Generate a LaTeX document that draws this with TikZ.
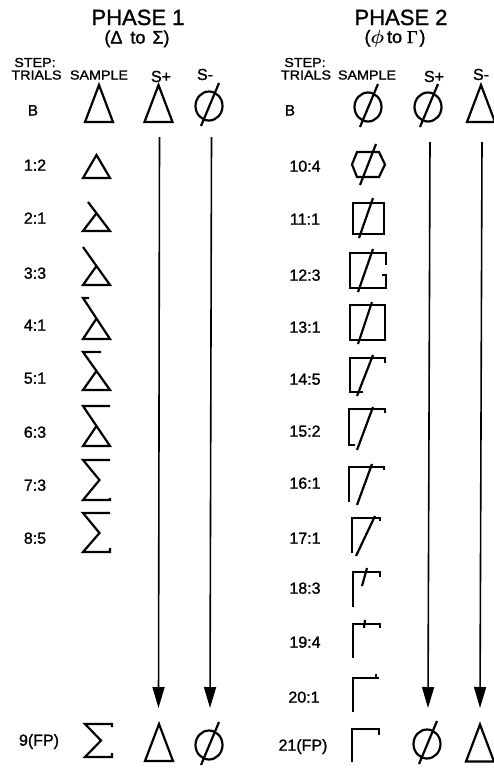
\documentclass[tikz,border=0pt]{standalone}
\usepackage{fontspec}
\setmainfont{Liberation Sans}[FakeBold=1.3]
\newfontfamily\widefont[FakeStretch=1.1,FakeBold=1.3]{Liberation Sans}
\newfontfamily\gkserif[FakeBold=1.3]{Liberation Serif}
\usetikzlibrary{arrows.meta}
\tikzset{
  shp/.style={line width=2.2pt, line join=miter, line cap=butt},
  arr/.style={line width=1.6pt, -{Triangle[width=12pt,length=21pt]}},
  lbl/.style={font=\fontsize{16}{16}\selectfont, inner sep=0pt, anchor=base},
  blbl/.style={font=\fontsize{15}{15}\selectfont, inner sep=0pt, anchor=base},
  head/.style={font=\fontsize{22}{22}\selectfont, inner sep=0pt, anchor=base},
  sub/.style={font=\fontsize{18}{18}\selectfont, inner sep=0pt, anchor=base},
  colh/.style={font=\widefont\fontsize{13}{13}\selectfont, inner sep=0pt, anchor=base},
  spm/.style={font=\fontsize{16}{16}\selectfont, inner sep=0pt, anchor=base},
  phisym/.pic={\draw[shp] (0,0) ellipse[x radius=13.5, y radius=14.5];
               \draw[shp] (10,-23)--(-8,20);},
  tri/.pic={\draw[shp] (-14,18.5)--(0,-18.5)--(14,18.5)--cycle;}
}
\begin{document}
\begin{tikzpicture}[x=1pt,y=-1pt]
\useasboundingbox (0,0) rectangle (494,769);
\fill[white] (0,0) rectangle (494,769);

% ---------------- headers
\node[head] (h1) at (138,25) {PHASE 1};
\node[sub]  (s1) at (137,43.5) {(Δ\hspace{3pt} to\hspace{2pt} Σ)};
\node[head] (h2) at (401,25) {PHASE 2};
\node[sub]  (s2) at (395,43) {({\boldmath\scalebox{1.1}{$\phi$}}\hspace{3pt}to {\gkserif Γ}\hspace{2pt})};

\node[colh] (st1) at (35,67) {STEP:};
\node[colh] (tr1) at (36.5,79.5) {TRIALS};
\node[colh] (sa1) at (99,79.5) {SAMPLE};
\node[spm]  (sp1) at (161,82) {S+};
\node[spm]  (sm1) at (205,80) {S-};

\node[colh] (st2) at (305,67) {STEP:};
\node[colh] (tr2) at (306,79.5) {TRIALS};
\node[colh] (sa2) at (367,79.5) {SAMPLE};
\node[spm]  (sp2) at (434,82) {S+};
\node[spm]  (sm2) at (481,80) {S-};

% ---------------- phase 1 labels
\node[blbl] (b1) at (33,115.5) {B};
\node[lbl] (r11) at (35,170.7) {1:2};
\node[lbl] (r12) at (35,223.7) {2:1};
\node[lbl] (r13) at (35,278.7) {3:3};
\node[lbl] (r14) at (35,330.7) {4:1};
\node[lbl] (r15) at (35,383.7) {5:1};
\node[lbl] (r16) at (35,437.7) {6:3};
\node[lbl] (r17) at (35,490.7) {7:3};
\node[lbl] (r18) at (35,543.7) {8:5};
\node[lbl] (r19) at (39,745.7) {9(FP)};

% ---------------- phase 2 labels
\node[blbl] (b2) at (290,115.5) {B};
\node[lbl] (r21) at (305,171.7) {10:4};
\node[lbl] (r22) at (305,224.7) {11:1};
\node[lbl] (r23) at (305,280.7) {12:3};
\node[lbl] (r24) at (305,332.7) {13:1};
\node[lbl] (r25) at (305,384.7) {14:5};
\node[lbl] (r26) at (305,436.7) {15:2};
\node[lbl] (r27) at (305,488.7) {16:1};
\node[lbl] (r28) at (305,543.7) {17:1};
\node[lbl] (r29) at (305,593.7) {18:3};
\node[lbl] (r2a) at (305,647.7) {19:4};
\node[lbl] (r2b) at (304,702.7) {20:1};
\node[lbl] (r2c) at (303,750.7) {21(FP)};

% ---------------- phase 1 B row and final row
\pic at (99,103.5) {tri};
\pic at (158.5,103.5) {tri};
\pic at (209,106) {phisym};
\draw[shp] (112,727)--(112,724)--(85,724)--(101,740.5)--(85,757)--(112,757)--(112,753);
\pic at (159,742.5) {tri};
\pic at (209,745) {phisym};

% ---------------- phase 1 sample morph (Delta -> Sigma)
\draw[shp] (83,178)--(96.5,155)--(110,178)--cycle;
\draw[shp] (88,202)--(110,231)--(83,231)--(96.5,213.2);
\draw[shp] (83,247)--(110,285)--(83,285)--(96.5,266);
\draw[shp] (89,298)--(83,298)--(110,339)--(83,339)--(96.5,318.5);
\draw[shp] (101,352)--(83,352)--(110,390)--(83,390)--(96.5,371);
\draw[shp] (110,406)--(83,406)--(110,446)--(83,446)--(96.5,426);
\draw[shp] (110,460)--(83,460)--(99.5,480)--(83,500)--(110,500)--(110,498);
\draw[shp] (110,513)--(83,513)--(99.5,533)--(83,552)--(110,552)--(110,548);

% ---------------- phase 2 B row and final row
\pic at (368,107) {phisym};
\pic at (428,107) {phisym};
\pic at (481,103.5) {tri};
\draw[shp] (379,735)--(379,729)--(352,729)--(352,762);
\pic at (427,744) {phisym};
\pic at (480,743) {tri};

% ---------------- phase 2 sample morph (phi -> Gamma)
\draw[shp] (352,164.5)--(357,152)--(379,152)--(385,164.5)--(379,177)--(357,177)--cycle;
\draw[shp] (376,144)--(360,185);
\draw[shp] (353,203) rectangle (384,234);
\draw[shp] (373,198)--(359,238);
\draw[shp] (386,265)--(386,253)--(350,253)--(350,288)--(386,288)--(386,275)--(382,275);
\draw[shp] (373,249)--(358,292);
\draw[shp] (350,305) rectangle (385,340);
\draw[shp] (372,302)--(358,344);
\draw[shp] (385,363)--(385,358)--(350,358)--(350,392)--(363,392);
\draw[shp] (373,355)--(357,396);
\draw[shp] (385,413)--(385,409)--(349,409)--(349,445)--(355,445);
\draw[shp] (373,407)--(357,450);
\draw[shp] (384,470)--(384,467)--(349,467)--(349,502);
\draw[shp] (372,464)--(357,505);
\draw[shp] (380,521)--(380,518)--(352,518)--(352,553);
\draw[shp] (375,516)--(356,556);
\draw[shp] (380,577)--(380,572)--(353,572)--(353,607);
\draw[shp] (367,568)--(362,586);
\draw[shp] (380,628)--(380,624)--(353,624)--(353,658);
\draw[shp] (365,620)--(364,628);
\draw[shp] (379,678)--(353,678)--(353,712);
\draw[shp] (376,674)--(376,678);

% ---------------- arrows
\coordinate (a1s) at (159.5,137); \coordinate (a1e) at (158.5,708);
\coordinate (a2s) at (211.5,137); \coordinate (a2e) at (210,708);
\coordinate (a3s) at (430,142);   \coordinate (a3e) at (428,708);
\coordinate (a4s) at (482,142);   \coordinate (a4e) at (480,708);
\draw[arr] (a1s) -- (a1e);
\draw[arr] (a2s) -- (a2e);
\draw[arr] (a3s) -- (a3e);
\draw[arr] (a4s) -- (a4e);
\end{tikzpicture}
\end{document}
